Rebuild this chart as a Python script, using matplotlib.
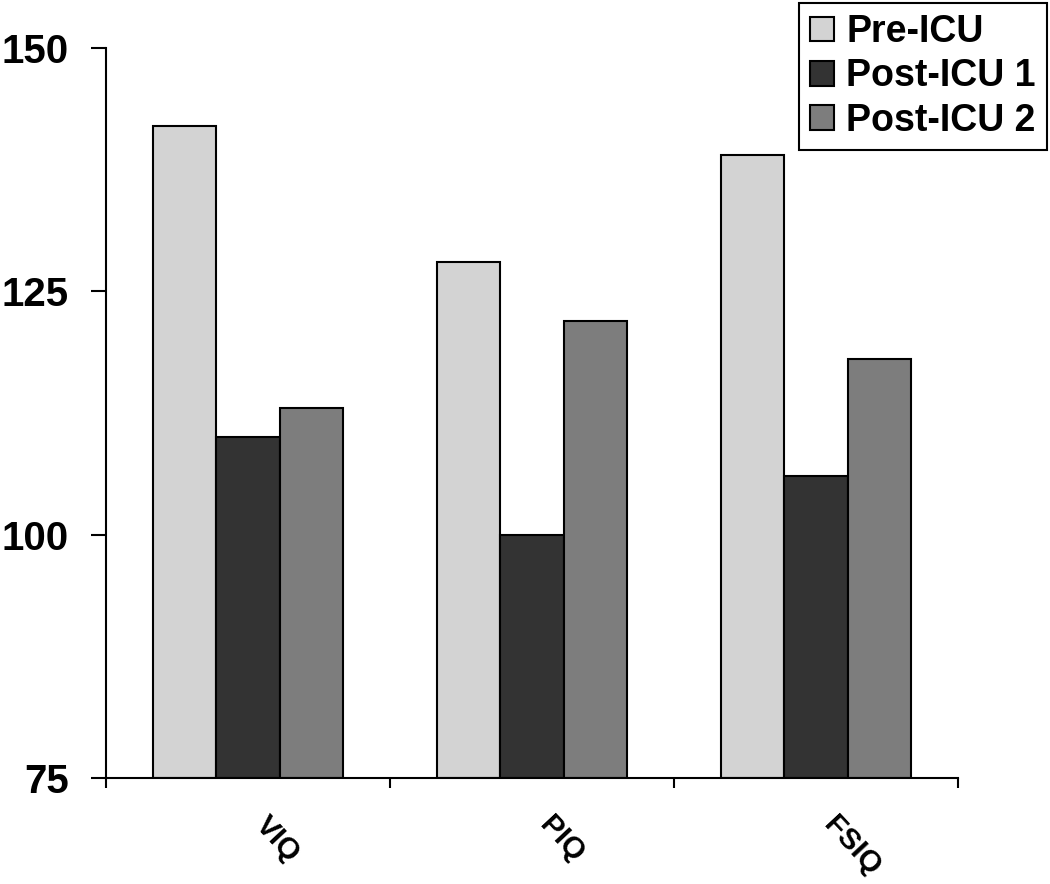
import matplotlib
matplotlib.use("Agg")
import matplotlib.pyplot as plt
import matplotlib.transforms as mtransforms
import numpy as np

categories = ["VIQ", "PIQ", "FSIQ"]
series_names = ["Pre-ICU", "Post-ICU 1", "Post-ICU 2"]
pre_icu = [142, 128, 139]
post_icu1 = [110, 100, 106]
post_icu2 = [113, 122, 118]
y_ticks = [75, 100, 125, 150]

colors = ["#d3d3d3", "#333333", "#7d7d7d"]

plt.rcParams['font.family'] = ['Liberation Sans', 'DejaVu Sans']
plt.rcParams['font.weight'] = 'bold'

fig = plt.figure(figsize=(10.5, 8.84), dpi=100)
ax = fig.add_axes([106/1050, 1-778/884, (958-106)/1050, (778-48)/884])

x = np.arange(len(categories))
w = 0.223
for i, (vals, name) in enumerate(zip([pre_icu, post_icu1, post_icu2], series_names)):
    ax.bar(x + (i-1)*w, np.array(vals) - 75, bottom=75, width=w, color=colors[i],
           edgecolor='black', linewidth=1.5, label=name)

ax.set_xlim(-0.5, 2.5)
ax.set_ylim(75, 150)
ax.set_yticks(y_ticks)
ax.set_yticklabels([str(t) for t in y_ticks], fontsize=29, fontweight='bold')
ax.set_xticks([-0.5, 0.5, 1.5, 2.5])
ax.set_xticklabels([])
ax.tick_params(axis='y', direction='out', length=11, width=1.5, pad=16)
ax.tick_params(axis='x', direction='out', length=7, width=1.5)
for s in ['top', 'right']:
    ax.spines[s].set_visible(False)
for s in ['left', 'bottom']:
    ax.spines[s].set_linewidth(1.5)

offset = mtransforms.ScaledTranslation(12/100, -42/100, fig.dpi_scale_trans)
for xi, lab in zip(x, categories):
    ax.text(xi, 0, lab, transform=ax.get_xaxis_transform() + offset,
            rotation=-47, rotation_mode='anchor', ha='left', va='center',
            fontsize=21.5, fontweight='bold')

leg = fig.legend(loc='upper right', bbox_to_anchor=(1047/1050, 1-3/884), borderaxespad=0,
                 fancybox=False, edgecolor='black', framealpha=1,
                 handlelength=0.63, handleheight=0.63, handletextpad=0.34,
                 labelspacing=0.22, borderpad=0.3,
                 prop={'weight': 'bold', 'size': 27})
leg.get_frame().set_linewidth(1.5)

fig.savefig("out.png", dpi=100)
